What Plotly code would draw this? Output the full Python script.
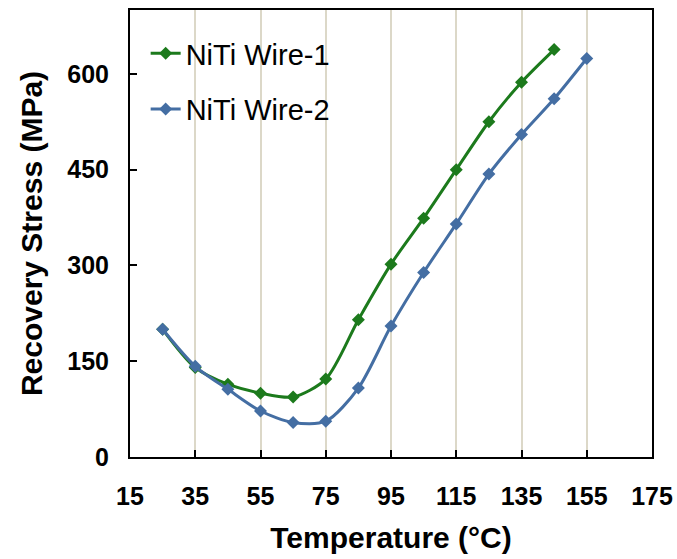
import plotly.graph_objects as go

temp1 = [25, 35, 45, 55, 65, 75, 85, 95, 105, 115, 125, 135, 145]
stress1 = [200, 140, 114, 100, 94, 122, 215, 302, 374, 450, 525, 587, 638]
temp2 = [25, 35, 45, 55, 65, 75, 85, 95, 105, 115, 125, 135, 145, 155]
stress2 = [200, 142, 106, 72, 54, 56, 108, 205, 289, 365, 443, 505, 561, 624]

x_ticks = [15, 35, 55, 75, 95, 115, 135, 155, 175]
y_ticks = [0, 150, 300, 450, 600]

green = "#1c7a1c"
blue = "#446ea3"
font = "Arial, Liberation Sans, sans-serif"

fig = go.Figure()
fig.add_trace(go.Scatter(x=temp1, y=stress1, name="NiTi Wire-1", mode="lines+markers",
                         line=dict(color=green, width=3, shape="spline", smoothing=0.8),
                         marker=dict(symbol="diamond", size=10, color=green),
                         legendgroup="a"))
fig.add_trace(go.Scatter(x=temp2, y=stress2, name="NiTi Wire-2", mode="lines+markers",
                         line=dict(color=blue, width=3, shape="spline", smoothing=0.8),
                         marker=dict(symbol="diamond", size=10, color=blue),
                         legendgroup="b"))

fig.update_layout(
    width=677, height=559,
    margin=dict(l=130, r=25, t=10, b=102, autoexpand=False),
    paper_bgcolor="white", plot_bgcolor="white",
    font=dict(family=font, color="black"),
    legend=dict(x=0.03, y=0.96, xanchor="left", yanchor="top",
                font=dict(size=29, family=font), traceorder="grouped",
                tracegroupgap=15, bgcolor="rgba(0,0,0,0)"),
    xaxis=dict(range=[15, 175], tickvals=x_ticks, ticks="inside", ticklen=7, tickwidth=2,
               tickcolor="black", showline=True, linecolor="black", linewidth=2, mirror=True,
               showgrid=True, gridcolor="#dcd8c8", gridwidth=1.5, zeroline=False, automargin=False,
               tickfont=dict(size=25, family=font, weight="bold"), ticklabelstandoff=16,
               title=dict(text="Temperature (°C)", font=dict(size=30, weight="bold"), standoff=18)),
    yaxis=dict(range=[0, 700], tickvals=y_ticks, ticks="inside", ticklen=7, tickwidth=2,
               tickcolor="black", showline=True, linecolor="black", linewidth=2, mirror=True,
               showgrid=False, zeroline=False, automargin=False,
               tickfont=dict(size=25, family=font, weight="bold"), ticklabelstandoff=14,
               title=dict(text="Recovery Stress (MPa)", font=dict(size=30, weight="bold"), standoff=16)),
)
fig.write_html("out.html")
